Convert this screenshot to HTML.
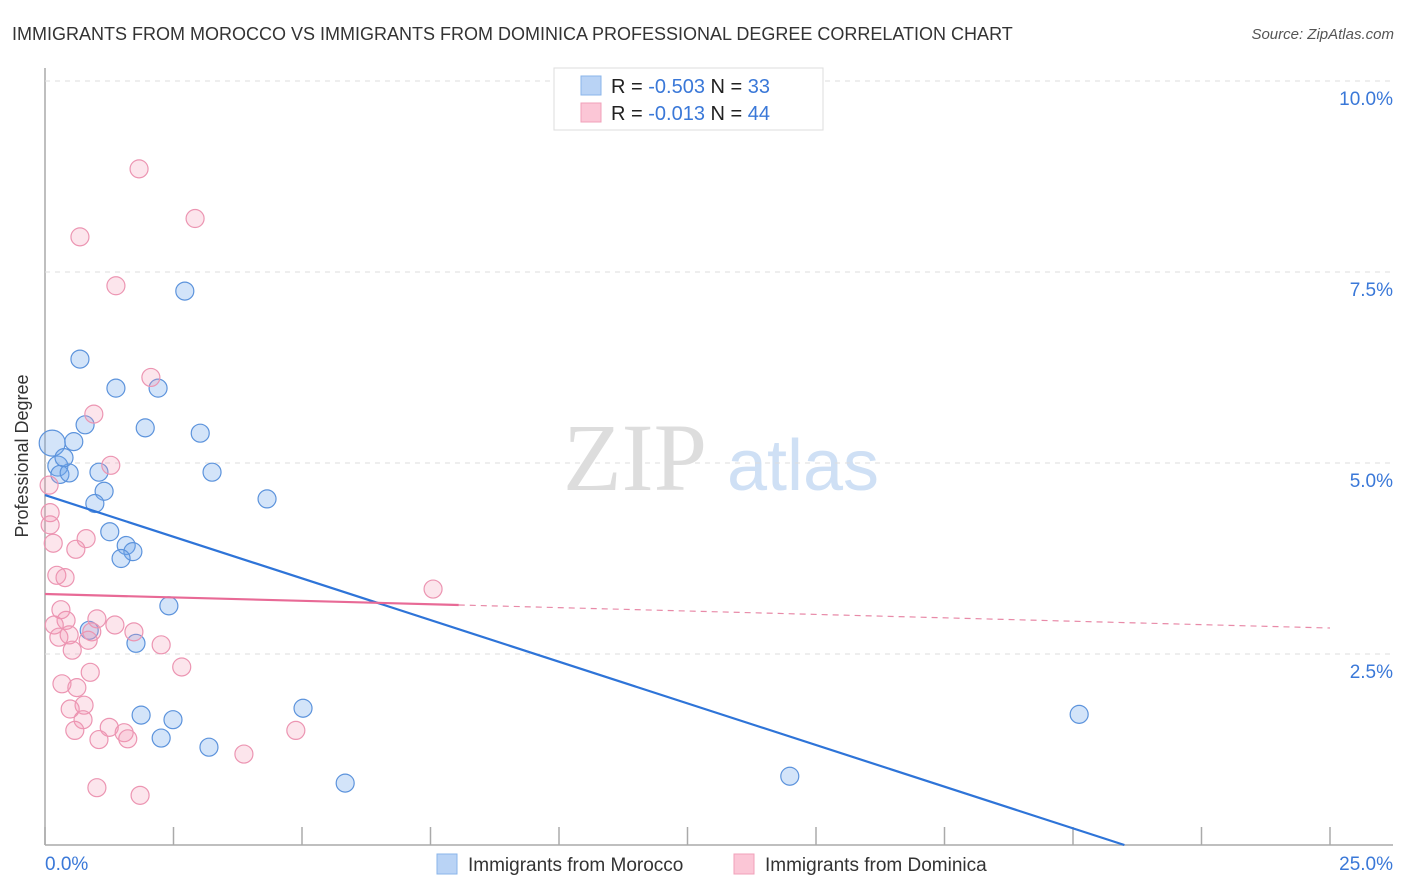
<!DOCTYPE html>
<html><head><meta charset="utf-8"><style>
body{margin:0;background:#fff;font-family:"Liberation Sans",sans-serif}
</style></head><body>
<svg id="c" width="1406" height="892" style="display:block">
<text x="12" y="40" font-size="18" fill="#333">IMMIGRANTS FROM MOROCCO VS IMMIGRANTS FROM DOMINICA PROFESSIONAL DEGREE CORRELATION CHART</text>
<text x="1394" y="39" font-size="15" fill="#555" text-anchor="end" font-style="italic">Source: ZipAtlas.com</text>
<text x="28" y="456" font-size="18" fill="#333" text-anchor="middle" transform="rotate(-90 28 456)">Professional Degree</text>
<g><text x="635" y="490" font-size="96" fill="#ddd" font-family="Liberation Serif" text-anchor="middle">ZIP</text><text x="803" y="490" font-size="72" fill="#cfe0f5" text-anchor="middle">atlas</text></g>
<g id="grid"></g><g id="marks"></g>
<g>
<rect x="554" y="68" width="269" height="62" fill="#fff" stroke="#ddd"/>
<rect x="581" y="76" width="20" height="19" fill="#b9d3f5" stroke="#8ab4ea"/>
<rect x="581" y="103" width="20" height="19" fill="#fbc6d6" stroke="#f0a0ba"/>
<text x="611" y="93" font-size="20" fill="#222">R = <tspan fill="#3a78d8">-0.503</tspan>   N = <tspan fill="#3a78d8">33</tspan></text>
<text x="611" y="120" font-size="20" fill="#222">R =  <tspan fill="#3a78d8">-0.013</tspan>   N = <tspan fill="#3a78d8">44</tspan></text>
</g>
<g>
<rect x="437" y="854" width="20" height="20" fill="#b9d3f5" stroke="#8ab4ea"/>
<text x="468" y="871" font-size="19" fill="#333">Immigrants from Morocco</text>
<rect x="734" y="854" width="20" height="20" fill="#fbc6d6" stroke="#f0a0ba"/>
<text x="765" y="871" font-size="19" fill="#333">Immigrants from Dominica</text>
</g>
</svg>
<script>
const yTicks=[2.5,5.0,7.5,10.0];
const xTickVals=[0,2.5,5,7.5,10,12.5,15,17.5,20,22.5,25];
const xLabels=["0.0%","25.0%"];
const moroccoX=[0.14,0.25,0.29,0.47,0.37,0.56,0.68,0.78,1.05,1.15,0.97,1.26,1.58,1.71,1.48,1.38,2.2,1.95,2.72,3.02,3.25,4.32,2.41,0.86,1.77,1.87,2.49,2.26,3.19,5.02,5.84,14.49,20.12];
const moroccoY=[5.26,4.96,4.85,4.87,5.07,5.28,6.36,5.50,4.88,4.63,4.47,4.10,3.92,3.84,3.75,5.98,5.98,5.46,7.25,5.39,4.88,4.53,3.13,2.81,2.64,1.70,1.64,1.40,1.28,1.79,0.81,0.90,1.71];
const moroccoR=[13,10,9,9,9,9,9,9,9,9,9,9,9,9,9,9,9,9,9,9,9,9,9,9,9,9,9,9,9,9,9,9,9];
const dominicaX=[1.83,2.92,0.68,1.38,2.06,0.95,1.28,0.08,0.1,0.1,0.16,0.8,0.6,0.23,0.39,0.31,0.41,0.18,1.01,0.27,0.47,0.91,0.84,1.36,1.73,2.26,0.53,2.66,0.88,0.33,0.62,0.76,0.49,0.74,0.58,1.25,1.54,1.05,1.61,3.87,4.88,1.01,1.85,7.55];
const dominicaY=[8.85,8.2,7.96,7.32,6.12,5.64,4.97,4.71,4.35,4.19,3.95,4.01,3.87,3.53,3.5,3.08,2.94,2.88,2.96,2.72,2.75,2.79,2.68,2.88,2.79,2.62,2.55,2.33,2.26,2.11,2.06,1.83,1.78,1.64,1.5,1.54,1.47,1.38,1.39,1.19,1.5,0.75,0.65,3.35];
const moroccoTrend=[0,4.58,21.0,0];
const dominicaTrend=[0,3.285,25,2.84];
const X0=45,X1=1330,Y0=845,Y10=81;
const sx=v=>X0+(X1-X0)*v/25, sy=v=>Y0-(Y0-Y10)*v/10;
const NS='http://www.w3.org/2000/svg';
function mk(t,a,p){const e=document.createElementNS(NS,t);for(const k in a)e.setAttribute(k,a[k]);p.appendChild(e);return e;}
const g=document.getElementById('grid'),m=document.getElementById('marks');
let ax=mk('line',{x1:X0,y1:68,x2:X0,y2:845,stroke:'#aaa','stroke-width':1.5},g);

let bx=mk('line',{x1:X0,y1:845,x2:1393,y2:845,stroke:'#aaa','stroke-width':1.5},g);

yTicks.forEach(v=>{const l=mk('line',{x1:X0,y1:sy(v),x2:1393,y2:sy(v),stroke:'#ddd','stroke-dasharray':'5,5'},g);

const t=mk('text',{x:1393,y:sy(v)+24,'font-size':19,fill:'#3a78d8','text-anchor':'end'},g);t.textContent=v.toFixed(1)+'%';
});
xTickVals.forEach(v=>{const l=mk('line',{x1:sx(v),y1:827,x2:sx(v),y2:845,stroke:'#aaa','stroke-width':1.5},g);
});
[[0,xLabels[0],'start',45],[25,xLabels[1],'end',1393]].forEach(a=>{const t=mk('text',{x:a[3],y:870,'font-size':19,fill:'#3a78d8','text-anchor':a[2]},g);t.textContent=a[1];
});
moroccoX.forEach((x,i)=>{const c=mk('circle',{cx:sx(x),cy:sy(moroccoY[i]),r:moroccoR[i],fill:'rgba(110,165,235,0.3)',stroke:'#5c93dc','stroke-width':1.2},m);
});
dominicaX.forEach((x,i)=>{const c=mk('circle',{cx:sx(x),cy:sy(dominicaY[i]),r:9,fill:'rgba(245,150,180,0.25)',stroke:'#ec95b2','stroke-width':1.2},m);
});
let t1=mk('line',{x1:sx(moroccoTrend[0]),y1:sy(moroccoTrend[1]),x2:sx(moroccoTrend[2]),y2:sy(moroccoTrend[3]),stroke:'#2e74d8','stroke-width':2.2},m);

const dy=x=>dominicaTrend[1]+(dominicaTrend[3]-dominicaTrend[1])*(x-dominicaTrend[0])/(dominicaTrend[2]-dominicaTrend[0]);
let t2=mk('line',{x1:sx(0),y1:sy(dy(0)),x2:sx(8.05),y2:sy(dy(8.05)),stroke:'#e86a96','stroke-width':2.2},m);

let t3=mk('line',{x1:sx(8.05),y1:sy(dy(8.05)),x2:sx(25),y2:sy(dy(25)),stroke:'#e88aa8','stroke-width':1.2,'stroke-dasharray':'6,5'},m);

</script>
</body></html>
